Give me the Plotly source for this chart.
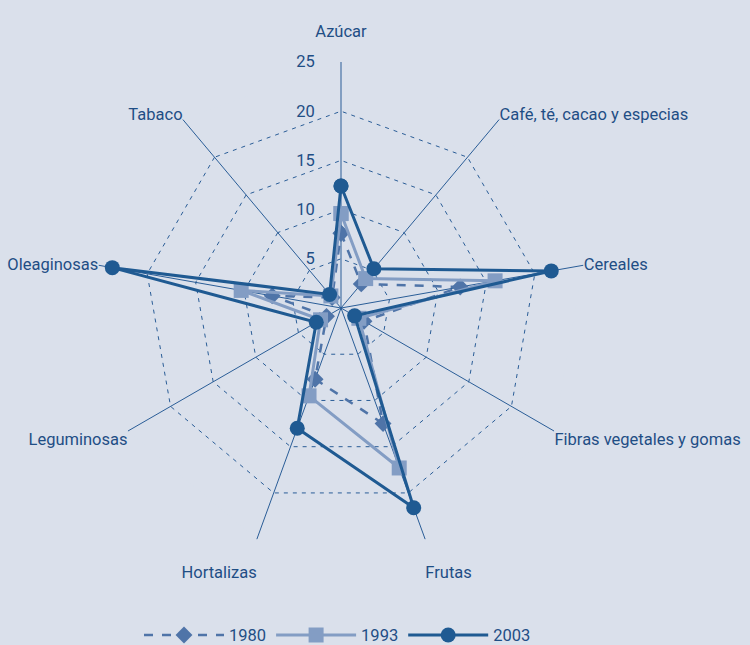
import plotly.graph_objects as go

categories = ["Azúcar", "Café, té, cacao y especias", "Cereales", "Fibras vegetales y gomas",
              "Frutas", "Hortalizas", "Leguminosas", "Oleaginosas", "Tabaco"]
v1980 = [7.6, 3.2, 12.3, 2.7, 12.5, 7.7, 1.7, 7.1, 1.4]
v1993 = [9.6, 3.9, 15.9, 2.1, 17.3, 9.5, 2.4, 10.3, 1.6]
v2003 = [12.4, 5.2, 21.7, 1.6, 21.6, 13.0, 2.9, 23.6, 1.8]
years = ["1980", "1993", "2003"]
radial_ticks = [5, 10, 15, 20, 25]

BG = "#dae0eb"
TXT = "#1f4e85"
GRID = "#2a5d97"
FONT = "Roboto, sans-serif"

def closed(v):
    return v + v[:1]

# extra blank line pushes the top / bottom labels further from the web
label_text = [c + "<br> " if c == "Azúcar" else (" <br>" + c if c in ("Frutas", "Hortalizas") else c)
              for c in categories]

theta = closed(categories)
fig = go.Figure()
fig.add_trace(go.Scatterpolar(r=closed(v1980), theta=theta, name=years[0], mode="lines+markers",
                              line=dict(color="#4f74a8", width=2.5, dash="dash"),
                              marker=dict(symbol="diamond", size=13, color="#4f74a8")))
fig.add_trace(go.Scatterpolar(r=closed(v1993), theta=theta, name=years[1], mode="lines+markers",
                              line=dict(color="#839dc4", width=3),
                              marker=dict(symbol="square", size=15, color="#839dc4")))
fig.add_trace(go.Scatterpolar(r=closed(v2003), theta=theta, name=years[2], mode="lines+markers",
                              line=dict(color="#1f5a92", width=3),
                              marker=dict(symbol="circle", size=15, color="#1f5a92")))

W, H = 750, 645
cx, cy, R = 341, 308, 246
fig.update_layout(
    width=W, height=H,
    paper_bgcolor=BG, plot_bgcolor=BG,
    margin=dict(l=0, r=0, t=0, b=0, autoexpand=False),
    font=dict(family=FONT, size=16.5, color=TXT),
    polar=dict(
        bgcolor=BG,
        domain=dict(x=[(cx - R) / W, (cx + R) / W], y=[1 - (cy + R) / H, 1 - (cy - R) / H]),
        gridshape="linear",
        radialaxis=dict(range=[0, 25], tickvals=radial_ticks, angle=90, tickangle=90,
                        showline=False, ticks="outside", ticklen=20, tickcolor="rgba(0,0,0,0)",
                        side="counterclockwise",
                        gridcolor=GRID, griddash="4px,5px", gridwidth=1,
                        tickfont=dict(size=16.5, color=TXT)),
        angularaxis=dict(rotation=90, direction="clockwise", showline=False,
                         tickvals=categories, ticktext=label_text,
                         gridcolor=GRID, gridwidth=1, ticks="",
                         tickfont=dict(size=16.5, color=TXT)),
    ),
    legend=dict(orientation="h", x=0.45, y=-0.012, xanchor="center", yanchor="bottom",
                itemwidth=80, font=dict(size=16.5, color=TXT), bgcolor="rgba(0,0,0,0)"),
)
fig.write_html("out.html", post_script="document.body.style.margin='0';",
               config={"displayModeBar": False})
